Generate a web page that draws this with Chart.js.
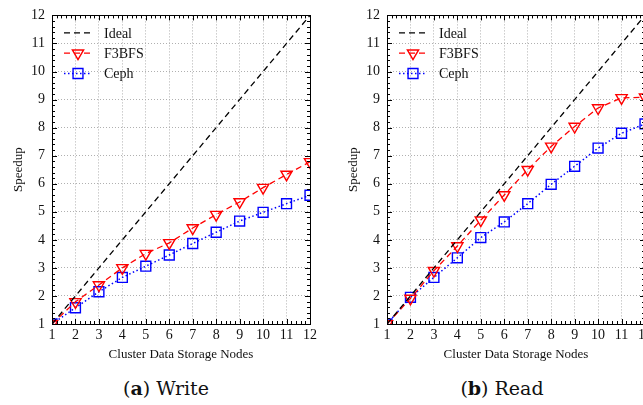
<!DOCTYPE html>
<html>
<head>
<meta charset="utf-8">
<script src="https://cdn.jsdelivr.net/npm/chart.js@4/dist/chart.umd.min.js"></script>
<style>
  body { margin: 0; width: 643px; height: 405px; overflow: hidden; background: #fff; position: relative; }
  .panel { position: absolute; top: 0; width: 320px; height: 370px; }
  .caption { position: absolute; top: 377px; width: 200px; text-align: center;
             font-family: "DejaVu Serif", serif; font-size: 19px; color: #111; }
</style>
</head>
<body>
<div class="panel" style="left:0"><canvas id="write"></canvas></div>
<div class="panel" style="left:335px"><canvas id="read"></canvas></div>
<div class="caption" style="left:66px">(<b>a</b>) Write</div>
<div class="caption" style="left:402px">(<b>b</b>) Read</div>
<script>
const nodes = [1, 2, 3, 4, 5, 6, 7, 8, 9, 10, 11, 12];
const ideal = [1, 2, 3, 4, 5, 6, 7, 8, 9, 10, 11, 12];
const f3bfsWrite = [1, 1.79, 2.39, 3.0, 3.51, 3.89, 4.42, 4.9, 5.35, 5.86, 6.33, 6.78];
const cephWrite = [1, 1.58, 2.15, 2.66, 3.06, 3.46, 3.87, 4.27, 4.67, 4.98, 5.29, 5.59];
const f3bfsRead = [1, 1.91, 2.9, 3.78, 4.7, 5.6, 6.5, 7.33, 8.04, 8.7, 9.06, 9.08];
const cephRead = [1, 1.95, 2.66, 3.36, 4.08, 4.64, 5.29, 5.98, 6.62, 7.27, 7.8, 8.13];
const seriesNames = ['Ideal', 'F3BFS', 'Ceph'];

const serif = '"Liberation Serif", serif';

function pts(ys) {
    return nodes.map((n, i) => ({ x: n, y: ys[i] }));
}

// frame, inward minor ticks and the gnuplot style key
const framePlugin = {
    id: 'frame',
    afterDraw(chart) {
        const ctx = chart.ctx;
        const a = chart.chartArea;
        const xs = chart.scales.x, ys = chart.scales.y;
        ctx.save();
        ctx.strokeStyle = '#000';
        ctx.lineWidth = 1;
        ctx.setLineDash([]);
        ctx.strokeRect(Math.round(a.left) + 0.5, Math.round(a.top) + 0.5,
            Math.round(a.right - a.left), Math.round(a.bottom - a.top));
        ctx.beginPath();
        for (let v = 1; v <= 12.001; v += 0.2) {
            const major = Math.abs(v - Math.round(v)) < 0.01;
            const len = major ? 5 : 3;
            const px = Math.round(xs.getPixelForValue(v)) + 0.5;
            ctx.moveTo(px, a.bottom); ctx.lineTo(px, a.bottom - len);
            ctx.moveTo(px, a.top); ctx.lineTo(px, a.top + len);
            const py = Math.round(ys.getPixelForValue(v)) + 0.5;
            ctx.moveTo(a.left, py); ctx.lineTo(a.left + len, py);
            ctx.moveTo(a.right, py); ctx.lineTo(a.right - len, py);
        }
        ctx.stroke();

        // key
        chart.data.datasets.forEach((ds, i) => {
            const y = a.top + 17.5 + i * 20.3;
            const x0 = a.left + 12, x1 = a.left + 40;
            ctx.strokeStyle = ds.borderColor;
            ctx.lineWidth = ds.borderWidth;
            ctx.setLineDash(ds.borderDash || []);
            ctx.beginPath();
            ctx.moveTo(x0, y); ctx.lineTo(x1, y);
            ctx.stroke();
            ctx.setLineDash([]);
            if (ds.pointRadius > 0) {
                ctx.lineWidth = ds.pointBorderWidth;
                ctx.strokeStyle = ds.pointBorderColor;
                ctx.fillStyle = 'rgba(0,0,0,0)';
                Chart.helpers.drawPoint(ctx, {
                    pointStyle: ds.pointStyle,
                    rotation: ds.pointRotation || 0,
                    radius: ds.pointRadius,
                    borderWidth: ds.pointBorderWidth
                }, (x0 + x1) / 2, y);
            }
            ctx.fillStyle = '#111';
            ctx.font = '14px ' + serif;
            ctx.textBaseline = 'middle';
            ctx.fillText(ds.label, a.left + 52, y + 1);
        });
        ctx.restore();
    }
};

function makePanel(id, f3bfs, ceph) {
    return new Chart(document.getElementById(id), {
        type: 'line',
        data: {
            datasets: [
                {
                    label: seriesNames[0], data: pts(ideal),
                    borderColor: '#000', borderWidth: 1.3, borderDash: [6, 4],
                    pointRadius: 0, clip: 0
                },
                {
                    label: seriesNames[1], data: pts(f3bfs),
                    borderColor: '#ff0000', borderWidth: 1.3, borderDash: [6, 4],
                    pointStyle: 'triangle', pointRotation: 180, pointRadius: 6.5,
                    pointBorderWidth: 1.4, pointBorderColor: '#ff0000',
                    pointBackgroundColor: 'rgba(0,0,0,0)', clip: 0
                },
                {
                    label: seriesNames[2], data: pts(ceph),
                    borderColor: '#0000ff', borderWidth: 1.5, borderDash: [1.5, 2.5],
                    pointStyle: 'rect', pointRadius: 7,
                    pointBorderWidth: 1.4, pointBorderColor: '#0000ff',
                    pointBackgroundColor: 'rgba(0,0,0,0)', clip: 0
                }
            ]
        },
        options: {
            responsive: true,
            maintainAspectRatio: false,
            animation: false,
            layout: { padding: { top: 15, right: 9, left: 0, bottom: 0 } },
            plugins: { legend: { display: false }, tooltip: { enabled: false } },
            scales: {
                x: {
                    type: 'linear', min: 1, max: 12,
                    afterFit: (s) => { s.height = 46; },
                    ticks: { stepSize: 1, color: '#111', font: { family: serif, size: 14 }, padding: 3 },
                    grid: { color: '#b0b0b0', lineWidth: 1, drawTicks: false },
                    border: { display: false, dash: [1, 2] },
                    title: { display: true, text: 'Cluster Data Storage Nodes', color: '#111',
                             font: { family: serif, size: 13 }, padding: { top: 0, bottom: 8 } }
                },
                y: {
                    min: 1, max: 12,
                    afterFit: (s) => { s.width = 52; },
                    ticks: { stepSize: 1, color: '#111', font: { family: serif, size: 14 }, padding: 7 },
                    grid: { color: '#b0b0b0', lineWidth: 1, drawTicks: false },
                    border: { display: false, dash: [1, 2] },
                    title: { display: true, text: 'Speedup', color: '#111',
                             font: { family: serif, size: 13 }, padding: { top: 11, bottom: 0 } }
                }
            }
        },
        plugins: [framePlugin]
    });
}

makePanel('write', f3bfsWrite, cephWrite);
makePanel('read', f3bfsRead, cephRead);
</script>
</body>
</html>
